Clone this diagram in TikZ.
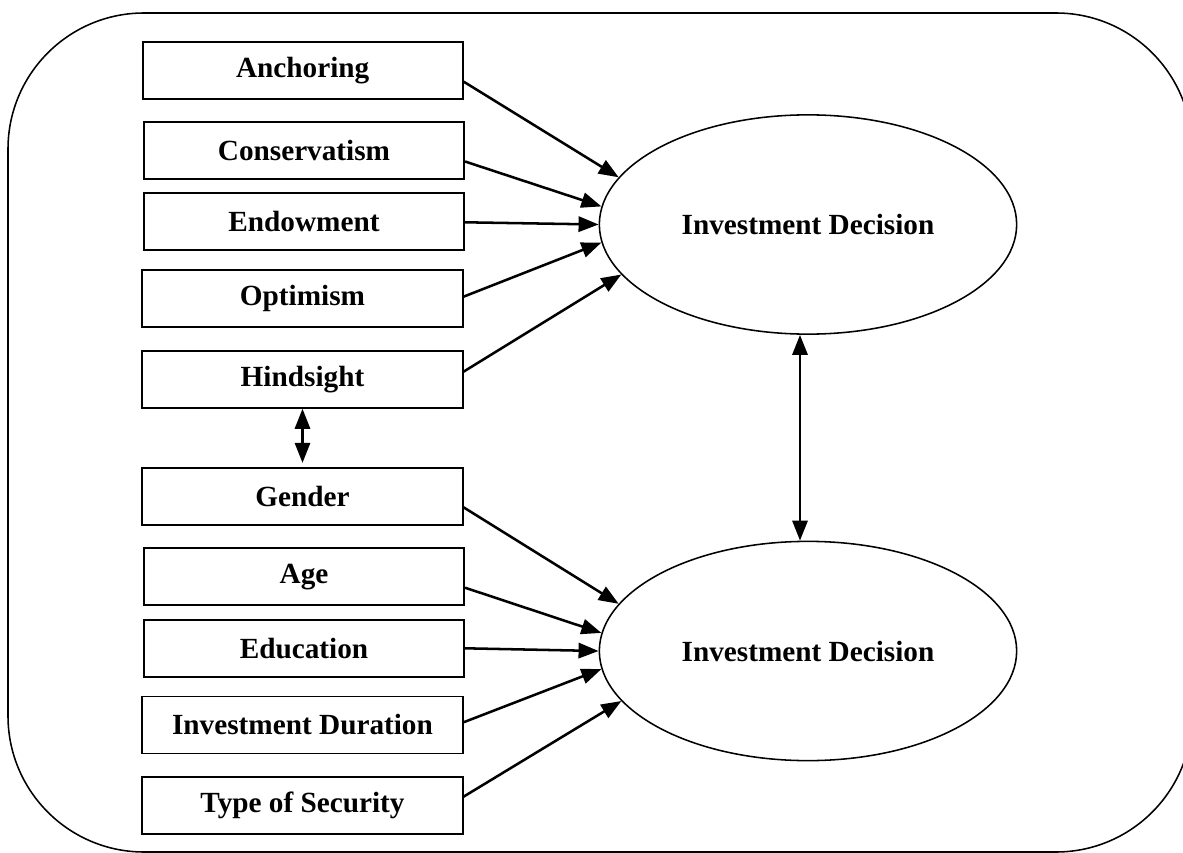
\documentclass[tikz,border=0pt]{standalone}
\usepackage{fontspec}
\setmainfont{Liberation Serif}
\usetikzlibrary{positioning, arrows.meta, calc, shapes.geometric}
\tikzset{
  box/.style={
    draw, line width=1.4pt,
    minimum width=8cm,
    minimum height=1.425cm,
    inner sep=0pt,
    font=\fontsize{20.8}{24}\selectfont\bfseries,
    align=center
  },
  decision/.style={
    draw, ellipse, line width=1.1pt,
    minimum width=10.43cm,
    minimum height=5.48cm,
    inner sep=0pt,
    font=\fontsize{20.8}{24}\selectfont\bfseries
  },
  signal/.style={-{Triangle[length=5mm, width=3.8mm]}, line width=1.8pt, black},
  both/.style={{Triangle[length=5mm, width=3.8mm]}-{Triangle[length=5mm, width=3.8mm]}, line width=1.8pt, black}
}

\begin{document}
\begin{tikzpicture}[
  x=0.025cm, y=-0.025cm,
  frame/.style={draw, line width=1.1pt, rounded corners=3.4cm},
]
\useasboundingbox (0,0) rectangle (1183,853);

% Outer frame
\draw[frame] (8,13) rectangle (1192,852);

% Behavioural factors
\node[box] (anch) at (302.7, 70.2) {Anchoring};
\node[box] (cons) at (304.0, 150.5) {Conservatism};
\node[box] (endow) at (304.0, 221.5) {Endowment};
\node[box] (optim) at (302.5, 298.7) {Optimism};
\node[box] (hind) at (302.5, 379.3) {Hindsight};

% Demographic factors
\node[box] (gend) at (302.5, 496.3) {Gender};
\node[box] (age) at (304.0, 576.7) {Age};
\node[box] (educ) at (304.0, 648.3) {Education};
\node[box] (dur) at (302.5, 725.0) {Investment Duration};
\node[box] (secu) at (302.5, 805.7) {Type of Security};

% Decisions
\node[decision] (dec1) at (808, 224.5) {Investment Decision};
\node[decision] (dec2) at (808, 651.0) {Investment Decision};

% Upper arrows
\draw[signal] ($(anch.east)+(0,11.5)$) -- (dec1.166.7);
\draw[signal] ($(cons.east)+(0,11)$) -- (dec1.175.6);
\draw[signal] ($(endow.east)+(0,0.8)$) -- (dec1.180);
\draw[signal] ($(optim.east)+(0,-2)$) -- (dec1.185.3);
\draw[signal] ($(hind.east)+(0,-7.6)$) -- (dec1.195);

% Lower arrows
\draw[signal] ($(gend.east)+(0,11)$) -- (dec2.166.8);
\draw[signal] ($(age.east)+(0,11)$) -- (dec2.175.9);
\draw[signal] (educ.east) -- (dec2.180);
\draw[signal] ($(dur.east)+(0,-2.7)$) -- (dec2.185.4);
\draw[signal] ($(secu.east)+(0,-9)$) -- (dec2.195.1);

% Two-way links
\draw[both, shorten >=1mm] (hind.south) -- (gend.north);
\draw[both] ($(dec1.south)+(-8,0)$) -- ($(dec2.north)+(-8,0)$);

\end{tikzpicture}
\end{document}
